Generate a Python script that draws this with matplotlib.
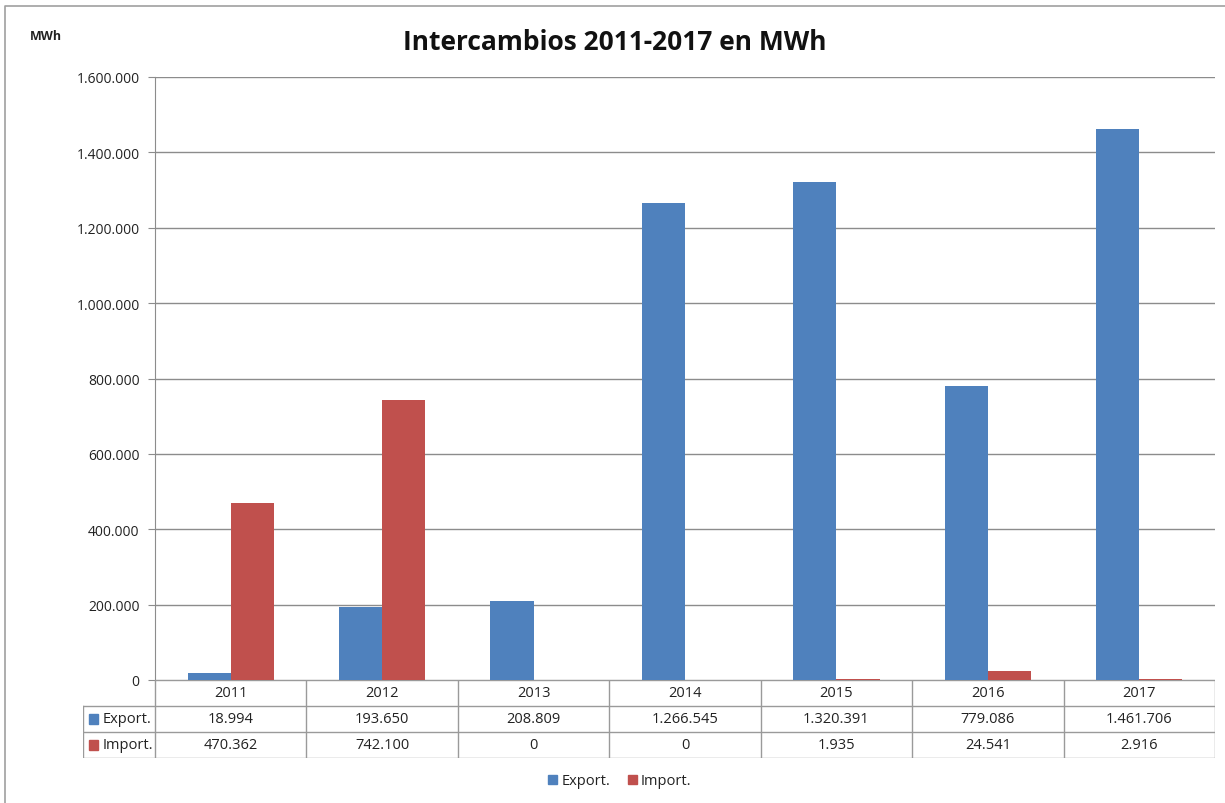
import matplotlib
matplotlib.use("Agg")
import matplotlib.pyplot as plt
from matplotlib.patches import Rectangle, Patch
from matplotlib.ticker import FuncFormatter
import numpy as np

# data
years = ["2011", "2012", "2013", "2014", "2015", "2016", "2017"]
export_vals = [18994, 193650, 208809, 1266545, 1320391, 779086, 1461706]
import_vals = [470362, 742100, 0, 0, 1935, 24541, 2916]
series_names = ["Export.", "Import."]
c_exp = "#4F81BD"
c_imp = "#C0504D"
grid_c = "#8C8C8C"

plt.rcParams["font.family"] = ["Open Sans", "DejaVu Sans"]

W, H = 1225, 804
fig = plt.figure(figsize=(W / 100, H / 100), dpi=100)

def fx(px):
    return px / W

def fy(py):
    return 1 - py / H

def dots(v, pos=None):
    return f"{int(v):,}".replace(",", ".")

# outer frame: only left and top edges are visible
fig.add_artist(plt.Line2D([fx(5), fx(5), 1], [0, fy(7), fy(7)], transform=fig.transFigure,
                          color="#A0A0A0", lw=1.2))

# main axes
left, right, top, bottom = 155, 1215, 78, 681
ax = fig.add_axes([fx(left), fy(bottom), fx(right - left), (bottom - top) / H])
x = np.arange(len(years))
bw = 0.285
ax.bar(x - bw / 2, export_vals, bw, color=c_exp, zorder=3)
ax.bar(x + bw / 2, import_vals, bw, color=c_imp, zorder=3)
ax.set_xlim(-0.5, len(years) - 0.5)
ax.set_ylim(0, 1600000)
ax.set_yticks(np.arange(0, 1600001, 200000))
ax.yaxis.set_major_formatter(FuncFormatter(dots))
ax.grid(axis="y", color=grid_c, lw=1, zorder=0)
ax.set_xticks([])
for s in ["top", "right", "bottom"]:
    ax.spines[s].set_visible(False)
ax.spines["left"].set_color(grid_c)
ax.tick_params(axis="y", length=5, color=grid_c, labelsize=10, pad=6, labelcolor="#222222")

# data table below the axes
tab_left = 83
cw = (right - left) / len(years)
tax = fig.add_axes([fx(tab_left), fy(759), fx(right - tab_left), (759 - bottom) / H])
tax.set_xlim(-0.5 - (left - tab_left) / cw, len(years) - 0.5)
tax.set_ylim(3, 0)
tax.axis("off")
lc = "#9A9A9A"
xl = -0.5 - (left - tab_left) / cw
xr = len(years) - 0.5
tax.plot([-0.5, xr], [0, 0], color=lc, lw=1)
for r in (1, 2, 3):
    tax.plot([xl, xr], [r, r], color=lc, lw=1)
for i in range(len(years) + 1):
    tax.plot([i - 0.5, i - 0.5], [0, 3], color=lc, lw=1)
tax.plot([xl, xl], [1, 3], color=lc, lw=1)

fs = 10.5
for i, yr in enumerate(years):
    tax.text(i, 0.5, yr, ha="center", va="center", fontsize=fs, color="#222222")
    tax.text(i, 1.5, dots(export_vals[i]), ha="center", va="center", fontsize=fs, color="#222222")
    tax.text(i, 2.5, dots(import_vals[i]), ha="center", va="center", fontsize=fs, color="#222222")
for r, (name, col) in enumerate(zip(series_names, [c_exp, c_imp])):
    tax.add_patch(Rectangle((xl + 0.04, r + 1.32), 0.06, 0.36, color=col))
    tax.text(xl + 0.13, r + 1.5, name, ha="left", va="center", fontsize=fs, color="#222222")

# titles
fig.text(fx(615), fy(42), "Intercambios 2011-2017 en MWh", ha="center", va="center",
         fontsize=19, fontweight="bold", color="#111111")
fig.text(fx(30), fy(37), "MWh", ha="left", va="center", fontsize=9, fontweight="bold", color="#222222")

# legend
handles = [Patch(color=c_exp, label=series_names[0]), Patch(color=c_imp, label=series_names[1])]
fig.legend(handles=handles, loc="center", bbox_to_anchor=(fx(620), fy(782)), ncol=2,
           frameon=False, fontsize=fs, handlelength=0.6, handleheight=0.6, handletextpad=0.3,
           columnspacing=1.2, labelcolor="#222222")

fig.savefig("out.png", dpi=100)
